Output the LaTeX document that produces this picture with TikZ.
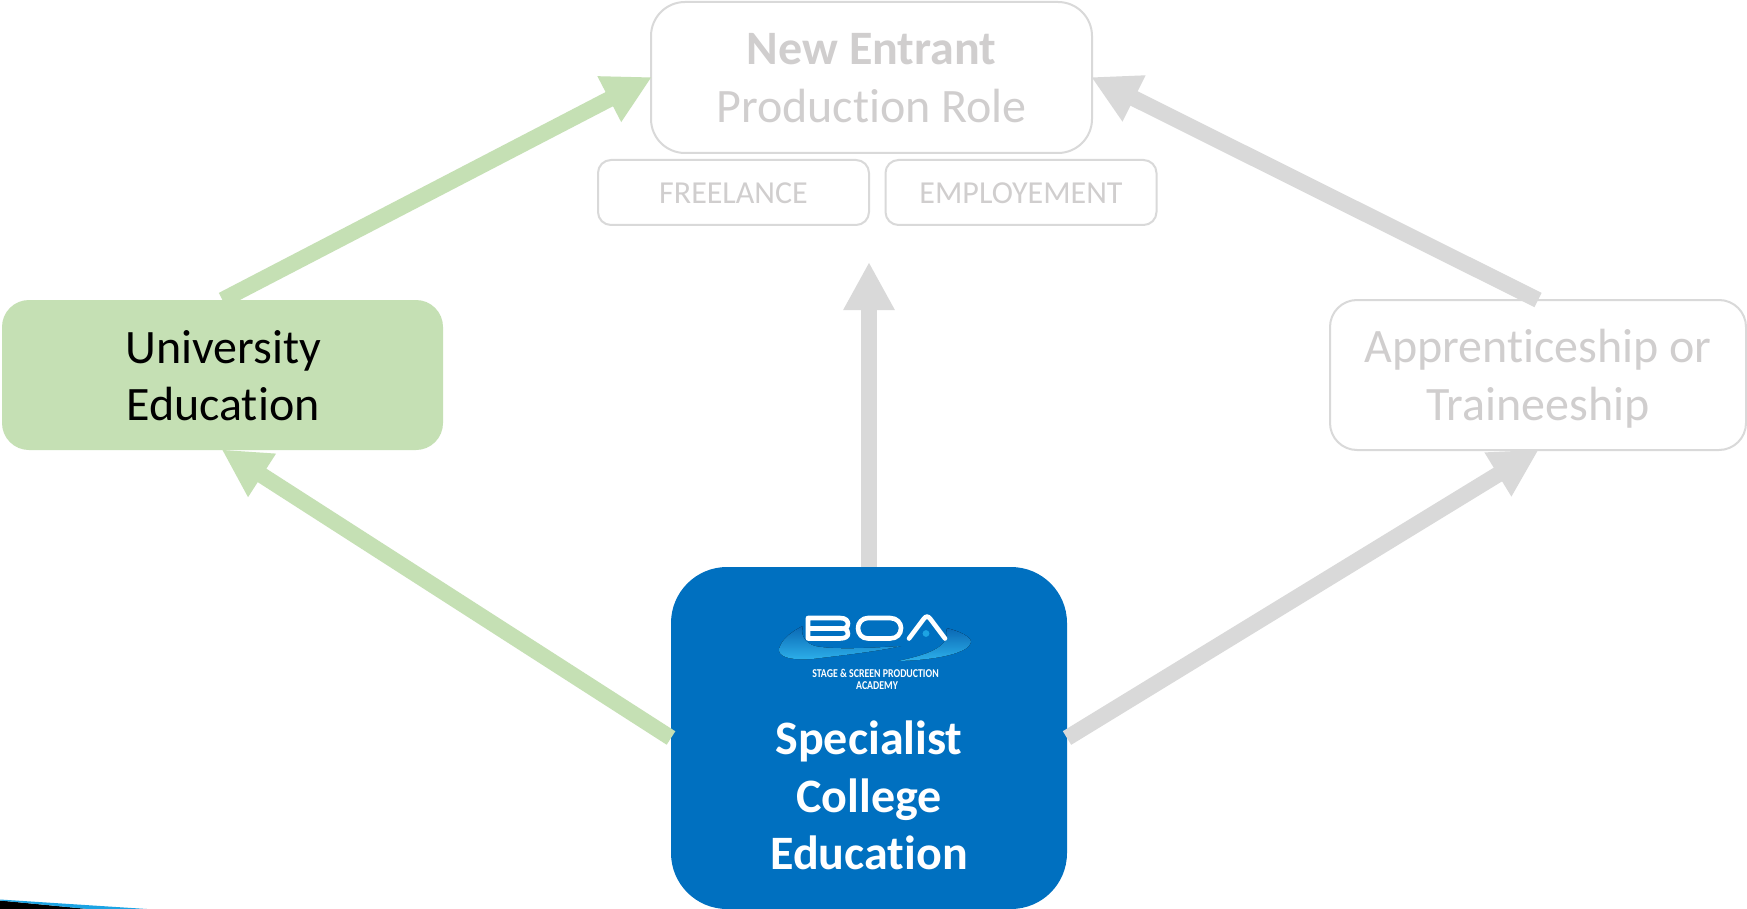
\documentclass[tikz,border=0pt]{standalone}
\usepackage{fontspec}
\usepackage{graphicx}
\setmainfont[Ligatures=NoCommon]{Carlito}
\usetikzlibrary{arrows.meta,shapes.misc}
\definecolor{boxgreen}{HTML}{C5E0B4}
\definecolor{arrowgray}{HTML}{D9D9D9}
\definecolor{fadetext}{HTML}{D0CECE}
\definecolor{boablue}{HTML}{0070C0}
\definecolor{swoosh}{HTML}{1CA3E3}
\definecolor{swooshdark}{HTML}{0A68B4}
\definecolor{swooshlight}{HTML}{2DB0EA}
\tikzset{
  px/.style={x=1pt,y=-1pt},
  basebox/.style={rectangle,rounded corners=#1,inner sep=0pt,outer sep=0pt,align=center,font=\fontsize{48}{57.5}\selectfont},
  fadebox/.style={draw=arrowgray,line width=2pt,text=fadetext},
  flow/.style={line width=16pt,shorten >=-1pt,-{Triangle[length=48pt,width=48pt]}},
  greenflow/.style={flow,draw=boxgreen},
  grayflow/.style={flow,draw=arrowgray},
  letter/.style={draw=white,line width=4.6pt,line join=round,line cap=round},
}
\begin{document}
\begin{tikzpicture}[px]
\useasboundingbox (0,0) rectangle (1747,909);
\path[fill=white] (0,0) rectangle (1747,909);

% nodes
\node[basebox=34pt,fadebox,minimum width=441pt,minimum height=151pt] (newrole) at (871.5,77.5) {};
\node[inner sep=0pt,align=center,text=fadetext,font=\fontsize{48}{57.5}\selectfont] (newroletext) at (871.5,78) {\textbf{New Entrant}\\Production Role};
\node[basebox=13pt,fadebox,minimum width=271pt,minimum height=65pt] (free) at (733.5,192.5) {};
\node[inner sep=0pt,text=fadetext,font=\fontsize{32}{37}\selectfont] (freetext) at (733.5,193.5) {FREELANCE};
\node[basebox=13pt,fadebox,minimum width=271pt,minimum height=65pt] (employ) at (1021,192.5) {};
\node[inner sep=0pt,text=fadetext,font=\fontsize{32}{37}\selectfont] (employtext) at (1021,193.5) {EMPLOYEMENT};
\node[basebox=27pt,fill=boxgreen,text=black,minimum width=441pt,minimum height=150pt] (uni) at (222.5,375) {};
\node[inner sep=0pt,align=center,text=black,font=\fontsize{48}{57.5}\selectfont] (unitext) at (223,375.5) {University\\Education};
\node[basebox=27pt,fadebox,minimum width=416pt,minimum height=150pt] (app) at (1538,375) {};
\node[inner sep=0pt,align=center,text=fadetext,font=\fontsize{48}{57.5}\selectfont] (apptext) at (1538,378.5) {Apprenticeship or\\Traineeship};
\node[basebox=56pt,fill=boablue,text=white,minimum width=396pt,minimum height=342pt] (spec) at (869,738) {};
\node[inner sep=0pt,align=center,text=white,font=\fontsize{48}{57.5}\selectfont\bfseries] (spectext) at (869,795.5) {Specialist\\College\\Education};

\coordinate (midtip) at (869,263);

% connectors
\draw[greenflow] (uni.north) -- (newrole.west);
\draw[greenflow] (spec.west) -- (uni.south);
\draw[grayflow] (app.north) -- (newrole.east);
\draw[grayflow] (spec.east) -- (app.south);
\draw[grayflow] (spec.north) -- (midtip);

% logo
\fill[top color=swooshdark,bottom color=swooshlight] (803,626) .. controls (788,633) and (779,643) .. (779,651) .. controls (781,659) and (797,660) .. (812,659) .. controls (845,655) and (880,651) .. (901,646) .. controls (870,648) and (835,650) .. (815,646) .. controls (805,643) and (800,635) .. (803,626) -- cycle;
\fill[top color=swooshdark,bottom color=swooshlight] (946,628) .. controls (960,631) and (971,637) .. (971,642) .. controls (970,652) and (940,660) .. (898,661) .. controls (925,655) and (952,648) .. (946,628) -- cycle;
\draw[letter] (808,618) -- (840,618) .. controls (846,618) and (848,621) .. (848,624) .. controls (848,626) and (847,628) .. (844,628.5) .. controls (847,629) and (848,631) .. (848,634) .. controls (848,636) and (846,638.5) .. (840,638.5) -- (808,638.5) -- cycle;
\draw[letter] (810,628.5) -- (842,628.5);
\draw[letter] (868,618) -- (890,618) .. controls (897,618) and (901,623) .. (901,628) .. controls (901,634) and (897,638.5) .. (890,638.5) -- (868,638.5) .. controls (862,638.5) and (858,634) .. (858,628) .. controls (858,623) and (862,618) .. (868,618) -- cycle;
\draw[letter] (909,638.5) -- (924,618.5) .. controls (926,616) and (928,616) .. (930,618.5) -- (945,638.5);
\fill[swoosh] (926,633.5) circle[radius=3.4pt];
\node[inner sep=0pt,text=white] (logoline1) at (875.5,673) {\scalebox{0.82}[1]{\fontsize{12}{13}\selectfont\bfseries STAGE \& SCREEN PRODUCTION}};
\node[inner sep=0pt,text=white] (logoline2) at (877,686) {\scalebox{0.82}[1]{\fontsize{12}{13}\selectfont\bfseries ACADEMY}};

% corner wedge
\fill[black] (0,900.5) -- (88,909) -- (0,909) -- cycle;
\fill[swoosh] (0,899.5) -- (147,909) -- (88,909) -- (0,900.5) -- cycle;
\end{tikzpicture}
\end{document}
